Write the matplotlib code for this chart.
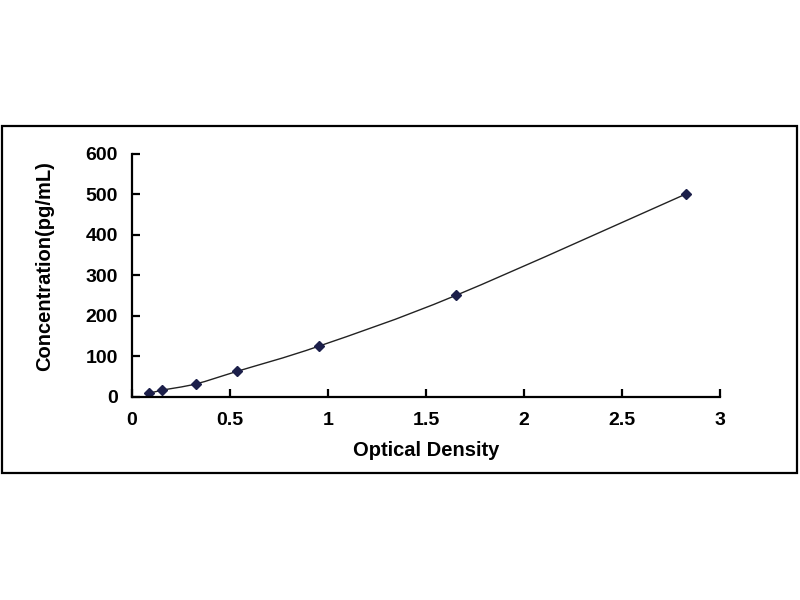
import numpy as np
import matplotlib.pyplot as plt
from matplotlib.path import Path
from matplotlib.patches import PathPatch, Rectangle

od = [0.087, 0.151, 0.325, 0.537, 0.956, 1.653, 2.825]
conc = [7.8, 15.6, 31.25, 62.5, 125, 250, 500]
x_ticks = [0, 0.5, 1, 1.5, 2, 2.5, 3]
x_tick_labels = ["0", "0.5", "1", "1.5", "2", "2.5", "3"]
y_ticks = [0, 100, 200, 300, 400, 500, 600]

plt.rcParams['font.family'] = ['Liberation Sans', 'DejaVu Sans']
plt.rcParams['font.weight'] = 'bold'


def smooth_path(xs, ys):
    # Catmull-Rom style smoothing, like a spreadsheet's smoothed line
    pts = np.column_stack([xs, ys])
    verts = [pts[0]]
    codes = [Path.MOVETO]
    n = len(pts)
    for i in range(n - 1):
        p0 = pts[i - 1] if i > 0 else pts[i]
        p1 = pts[i]
        p2 = pts[i + 1]
        p3 = pts[i + 2] if i + 2 < n else pts[i + 1]
        c1 = p1 + (p2 - p0) / 6.0
        c2 = p2 - (p3 - p1) / 6.0
        verts += [c1, c2, p2]
        codes += [Path.CURVE4] * 3
    return Path(verts, codes)


fig = plt.figure(figsize=(8, 6), dpi=100)
ax = fig.add_axes([0.165, 0.339, 0.735, 0.405])

ax.add_patch(PathPatch(smooth_path(od, conc), facecolor='none',
                       edgecolor='#222222', lw=1.0))
ax.plot(od, conc, linestyle='none', marker='D', markersize=5,
        color='#1c1f4a')

ax.set_xlim(0, 3)
ax.set_ylim(0, 600)
ax.set_xticks(x_ticks)
ax.set_xticklabels(x_tick_labels)
ax.set_yticks(y_ticks)
for s in ['top', 'right']:
    ax.spines[s].set_visible(False)
for s in ['left', 'bottom']:
    ax.spines[s].set_linewidth(1.6)
ax.tick_params(direction='in', length=6, width=1.6, labelsize=14)
ax.tick_params(axis='x', pad=11)
ax.tick_params(axis='y', pad=10)
for lab in ax.get_xticklabels() + ax.get_yticklabels():
    lab.set_fontweight('bold')

ax.set_xlabel("Optical Density", fontsize=14.5, fontweight='bold', labelpad=9)
ax.set_ylabel("Concentration(pg/mL)", fontsize=14.5, fontweight='bold')
ax.yaxis.set_label_coords(-0.132, 0.537)

fig.patches.append(Rectangle((2 / 800, 1 - 473 / 600), 795 / 800, 347 / 600,
                             transform=fig.transFigure, fill=False,
                             edgecolor='black', lw=1.6))

plt.savefig("out.png", dpi=100)
